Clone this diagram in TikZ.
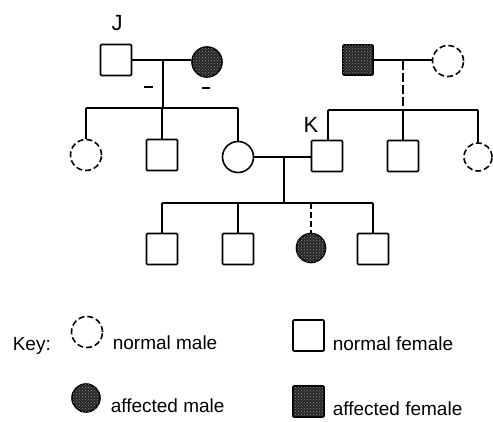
\documentclass[tikz,border=0pt]{standalone}
\usepackage{fontspec}
\setmainfont{Liberation Sans}
\usetikzlibrary{patterns}
\begin{document}
\begin{tikzpicture}[x=1pt,y=-1pt,
  line width=1.6pt,
  sq/.style={draw, rectangle, minimum size=31pt, inner sep=0pt, rounded corners=1pt},
  ci/.style={draw, circle, minimum size=31pt, inner sep=0pt},
  brk/.style={dash pattern=on 6pt off 3pt},
  aff/.style={fill=black!85, postaction={pattern=crosshatch dots, pattern color=black!45}},
  lnk/.style={line width=1.6pt},
  lbl/.style={font=\fontsize{22}{24}\selectfont, inner sep=0pt},
  keytxt/.style={font=\fontsize{19}{21}\selectfont, inner sep=0pt, anchor=base west}]
\useasboundingbox (0,0) rectangle (493,422);

% first generation
\node[sq]  (j)  at (116,60) {};
\node[ci, aff, minimum size=30pt] (jw) at (207,62) {};
\node[sq, aff, minimum size=30pt] (fm) at (358,60) {};
\node[ci, brk] (fw) at (448,61) {};
\node[lbl] (lj) at (117,23) {J};

\coordinate (m1) at (163,60);
\coordinate (s1) at (163,108);
\coordinate (m2) at (403,61);
\coordinate (s2) at (403,110);

\draw[lnk] (j.east) -- (j.east -| jw.west);
\draw[lnk] (m1) -- (s1);
\draw[lnk] (fm.east) -- (fm.east -| fw.west);
\draw[lnk, dash pattern=on 9pt off 3pt] (m2) -- (s2);

% small marks under the first couple
\draw[line width=2pt] (144,87) -- (153,87) coordinate (d1e);
\draw[line width=2pt] (202,88) -- (210,88) coordinate (d2e);

% second generation
\node[ci, brk] (c1) at (86,155) {};
\node[sq] (c2) at (162,155) {};
\node[ci] (c3) at (238,157) {};
\node[sq] (k)  at (327,156) {};
\node[sq] (c5) at (403,156) {};
\node[ci, brk, minimum size=28pt] (c6) at (478,157) {};
\node[lbl] (lk) at (311,125) {K};

\coordinate (s1a) at (86,108);
\coordinate (s1b) at (238,108);
\coordinate (s2a) at (328,110);
\coordinate (s2b) at (478,110);

\draw[lnk] (s1a) -- (s1b);
\draw[lnk] (s1a) -- (c1.north);
\draw[lnk] (c2.north |- s1) -- (c2.north);
\draw[lnk] (s1b) -- (c3.north);

\draw[lnk] (s2a) -- (s2b);
\draw[lnk] (s2a) -- (s2a |- k.north);
\draw[lnk] (c5.north |- s2) -- (c5.north);
\draw[lnk] (s2b) -- (c6.north);

% second couple and their children
\coordinate (m3) at (284,156);
\coordinate (s3) at (284,203);
\draw[lnk] (c3.east) -- (c3.east -| k.west);
\draw[lnk] (m3) -- (s3);

\node[sq] (g1) at (162,249) {};
\node[sq] (g2) at (238,249) {};
\node[ci, aff, minimum size=29pt] (g3) at (311,248) {};
\node[sq] (g4) at (373,249) {};

\draw[lnk] (g1.north |- s3) -- (g4.north |- s3);
\draw[lnk] (g1.north |- s3) -- (g1.north);
\draw[lnk] (g2.north |- s3) -- (g2.north);
\draw[lnk, dash pattern=on 6pt off 3pt] (g3.north |- s3) -- (g3.north);
\draw[lnk] (g4.north |- s3) -- (g4.north);

% key
\node[keytxt] (key) at (12,350) {Key:};
\node[ci, brk, minimum size=31pt] (k1) at (87,332) {};
\node[keytxt] (k1t) at (112,349) {normal male};
\node[sq] (k2) at (308.5,335.5) {};
\node[keytxt] (k2t) at (332,350) {normal female};
\node[ci, aff, minimum size=28pt] (k3) at (86,398) {};
\node[keytxt] (k3t) at (110,412) {affected male};
\node[sq, aff] (k4) at (308.5,401.5) {};
\node[keytxt] (k4t) at (332,415) {affected female};
\end{tikzpicture}
\end{document}
